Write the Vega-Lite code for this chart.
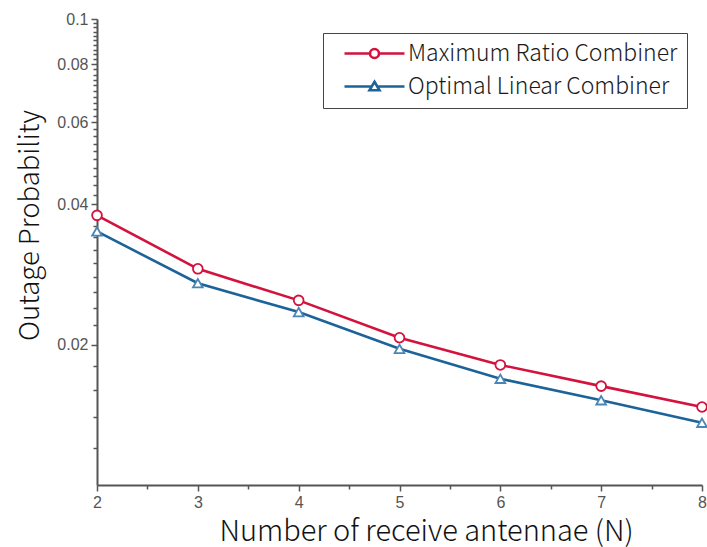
{
  "$schema": "https://vega.github.io/schema/vega-lite/v6.json",
  "autosize": "none",
  "width": 605,
  "height": 466,
  "padding": {"left": 97, "top": 19, "right": 5, "bottom": 62},
  "background": "white",
  "config": {
    "view": {"stroke": null},
    "axis": {
      "domainColor": "#555555",
      "domainWidth": 2,
      "tickColor": "#555555",
      "tickWidth": 1.5,
      "labelFont": "Liberation Sans",
      "labelFontSize": 16,
      "labelColor": "#555555",
      "grid": false,
      "titleFont": "Noto Sans CJK JP",
      "titleFontWeight": 300,
      "titleColor": "#111111"
    }
  },
  "data": {
    "values": [
      {"N": 2, "combiner": "Maximum Ratio Combiner", "p": 0.0379},
      {"N": 3, "combiner": "Maximum Ratio Combiner", "p": 0.0291},
      {"N": 4, "combiner": "Maximum Ratio Combiner", "p": 0.0249},
      {"N": 5, "combiner": "Maximum Ratio Combiner", "p": 0.0207},
      {"N": 6, "combiner": "Maximum Ratio Combiner", "p": 0.0181},
      {"N": 7, "combiner": "Maximum Ratio Combiner", "p": 0.0163},
      {"N": 8, "combiner": "Maximum Ratio Combiner", "p": 0.0147},
      {"N": 2, "combiner": "Optimal Linear Combiner", "p": 0.035},
      {"N": 3, "combiner": "Optimal Linear Combiner", "p": 0.0271},
      {"N": 4, "combiner": "Optimal Linear Combiner", "p": 0.0235},
      {"N": 5, "combiner": "Optimal Linear Combiner", "p": 0.0196},
      {"N": 6, "combiner": "Optimal Linear Combiner", "p": 0.0169},
      {"N": 7, "combiner": "Optimal Linear Combiner", "p": 0.0152},
      {"N": 8, "combiner": "Optimal Linear Combiner", "p": 0.0136}
    ]
  },
  "encoding": {
    "x": {
      "field": "N",
      "type": "quantitative",
      "scale": {"domain": [2, 8], "nice": false, "zero": false},
      "axis": {
        "values": [2, 2.5, 3, 3.5, 4, 4.5, 5, 5.5, 6, 6.5, 7, 7.5, 8],
        "labelExpr": "datum.value % 1 === 0 ? format(datum.value, 'd') : ''",
        "tickSize": {"condition": {"test": "datum.value % 1 === 0", "value": 6}, "value": 4},
        "labelPadding": 3,
        "labelFlush": false,
        "title": "Number of receive antennae (N)",
        "titleFontSize": 29,
        "titleX": 329,
        "titleY": 55,
        "titleAnchor": null,
        "titleAlign": "center",
        "titleBaseline": "alphabetic"
      }
    },
    "y": {
      "field": "p",
      "type": "quantitative",
      "scale": {"type": "log", "domain": [0.01, 0.1], "nice": false},
      "axis": {
        "values": [0.012, 0.014, 0.016, 0.018, 0.02, 0.022, 0.024, 0.026, 0.028, 0.03, 0.032, 0.034, 0.036, 0.038, 0.04, 0.042, 0.044, 0.046, 0.048, 0.05, 0.052, 0.054, 0.056, 0.058, 0.06, 0.062, 0.064, 0.066, 0.068, 0.07, 0.072, 0.074, 0.076, 0.078, 0.08, 0.082, 0.084, 0.086, 0.088, 0.09, 0.092, 0.094, 0.096, 0.098, 0.1],
        "format": ".2~f",
        "labelExpr": "indexof([0.02, 0.04, 0.06, 0.08, 0.1], datum.value) >= 0 ? datum.label : ''",
        "tickSize": {"condition": {"test": "indexof([0.02, 0.04, 0.06, 0.08, 0.1], datum.value) >= 0", "value": 6}, "value": 4},
        "labelPadding": 3,
        "labelFlush": false,
        "title": "Outage Probability",
        "titleFontSize": 27.5,
        "titleX": -67,
        "titleY": 206,
        "titleAnchor": null,
        "titleAngle": -90,
        "titleAlign": "center",
        "titleBaseline": "middle"
      }
    }
  },
  "resolve": {"scale": {"shape": "independent", "stroke": "independent"}},
  "layer": [
    {
      "mark": {"type": "line", "strokeWidth": 2.6},
      "encoding": {
        "color": {
          "field": "combiner",
          "type": "nominal",
          "scale": {"domain": ["Maximum Ratio Combiner", "Optimal Linear Combiner"], "range": ["#d3123e", "#1b6399"]},
          "legend": null
        }
      }
    },
    {
      "mark": {"type": "point", "filled": false, "fill": "white", "fillOpacity": 1, "opacity": 1, "size": 95, "strokeWidth": 1.8},
      "encoding": {
        "shape": {
          "field": "combiner",
          "type": "nominal",
          "scale": {"domain": ["Maximum Ratio Combiner", "Optimal Linear Combiner"], "range": ["circle", "triangle-up"]},
          "legend": null
        },
        "stroke": {
          "field": "combiner",
          "type": "nominal",
          "scale": {"domain": ["Maximum Ratio Combiner", "Optimal Linear Combiner"], "range": ["#d3123e", "#4a86b5"]},
          "legend": null
        }
      }
    },
    {
      "transform": [{"filter": "false"}],
      "mark": {"type": "point", "filled": false, "size": 100, "strokeWidth": 2.6, "opacity": 1},
      "encoding": {
        "stroke": {
          "field": "combiner",
          "type": "nominal",
          "scale": {"domain": ["Maximum Ratio Combiner", "Optimal Linear Combiner"], "range": ["#d3123e", "#1b6399"]},
          "legend": {
            "title": null,
            "orient": "none",
            "legendX": 226,
            "legendY": 14,
            "padding": 9,
            "strokeColor": "#444444",
            "fillColor": "white",
            "symbolSize": 100,
            "symbolStrokeWidth": 2.6,
            "symbolOpacity": 1,
            "symbolOffset": 31,
            "labelOffset": 22,
            "rowPadding": 9,
            "labelFont": "Noto Sans CJK JP",
            "labelFontWeight": 300,
            "labelFontSize": 23,
            "labelColor": "#1a1a1a",
            "labelLimit": 400
          }
        },
        "shape": {
          "field": "combiner",
          "type": "nominal",
          "scale": {
            "domain": ["Maximum Ratio Combiner", "Optimal Linear Combiner"],
            "range": [
              "M-6,0H-0.9M0.9,0H6M0.9,0A0.9,0.9,0,1,1,-0.9,0A0.9,0.9,0,1,1,0.9,0Z",
              "M-6,0H-0.6M0.6,0H6M0,-0.95L1,0.75L-1,0.75Z"
            ]
          },
          "legend": {
            "title": null,
            "orient": "none",
            "legendX": 226,
            "legendY": 14,
            "padding": 9,
            "strokeColor": "#444444",
            "fillColor": "white",
            "symbolSize": 100,
            "symbolStrokeWidth": 2.6,
            "symbolOpacity": 1,
            "symbolOffset": 31,
            "labelOffset": 22,
            "rowPadding": 9,
            "labelFont": "Noto Sans CJK JP",
            "labelFontWeight": 300,
            "labelFontSize": 23,
            "labelColor": "#1a1a1a",
            "labelLimit": 400
          }
        }
      }
    }
  ]
}
